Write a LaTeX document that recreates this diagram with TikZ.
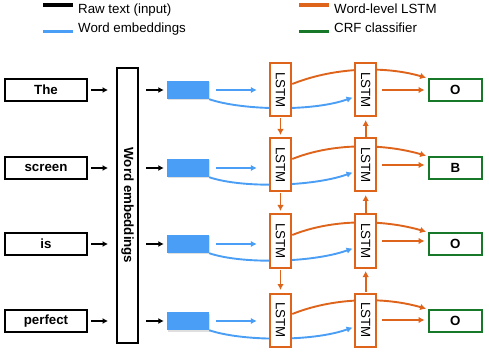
\documentclass[tikz,border=0pt]{standalone}
\usepackage{fontspec}
\setmainfont{Liberation Sans}
\usetikzlibrary{arrows.meta,shadows,calc}
\definecolor{cblue}{RGB}{74,158,245}
\definecolor{corange}{RGB}{222,100,28}
\definecolor{cgreen}{RGB}{22,120,40}
\pgfdeclarelayer{bg}
\pgfsetlayers{bg,main}
\begin{document}
\begin{tikzpicture}[x=1pt,y=1pt,
  every node/.style={font=\fontsize{13.3}{16}\selectfont, inner sep=0pt},
  wordbox/.style={draw, line width=2pt, minimum width=82pt, minimum height=22.5pt, font=\fontsize{13.3}{16}\selectfont\bfseries},
  embbox/.style={fill=cblue, minimum width=42pt, minimum height=18pt,
     drop shadow={shadow xshift=1pt, shadow yshift=-1.5pt, opacity=0.25}},
  lstmbox/.style={draw=corange, fill=white, line width=2pt, minimum width=21.5pt, minimum height=53pt},
  outbox/.style={draw=cgreen, fill=white, line width=2pt, minimum width=53.5pt, minimum height=21.7pt, font=\fontsize{13.3}{16}\selectfont\bfseries},
  blk/.style={line width=2pt, -{Latex[length=5.5pt,width=6pt]}},
  bl/.style={draw=cblue, line width=1.9pt, -{Latex[length=6pt,width=6.5pt]}},
  org/.style={draw=corange, line width=1.9pt, -{Latex[length=6pt,width=6.5pt]}},
  swatch/.style={line width=3.4pt}
]
\useasboundingbox (0,0) rectangle (489,-352);

% legend
\draw[swatch, black] (43,-5) -- (73,-5);
\node[anchor=base west] (lg1) at (78,-14) {Raw text (input)};
\draw[swatch, cblue] (43,-31.7) -- (73,-31.7);
\node[anchor=base west] (lg2) at (78,-32.8) {Word embeddings};
\draw[swatch, corange] (299,-5) -- (329,-5);
\node[anchor=base west] (lg3) at (334,-14) {Word-level LSTM};
\draw[swatch, cgreen] (299,-31.7) -- (329,-31.7);
\node[anchor=base west] (lg4) at (334,-32.8) {CRF classifier};

% word embeddings box
\node[draw, line width=2pt, minimum width=21pt, minimum height=275pt] (emb) at (127.5,-205.5)
  {\rotatebox{-90}{\bfseries Word embeddings}};

% rows
\foreach \i/\w/\o/\yw/\yl in {1/The/O/90/90, 2/screen/B/168/165, 3/is/O/244/241, 4/perfect/O/321/320} {
  \node[wordbox] (w\i) at (46,-\yw) {\w};
  \node[embbox] (e\i) at (188,-\yw) {};
  \node[lstmbox] (a\i) at (280.5,-\yl) {\rotatebox{-90}{LSTM}};
  \node[lstmbox] (b\i) at (365.7,-\yl) {\rotatebox{-90}{LSTM}};
  \node[outbox] (o\i) at (455.3,-\yw) {\o};
  \draw[blk, shorten <=3pt, shorten >=8pt] (w\i.east) -- (w\i.east -| emb.west);
  \draw[blk, shorten <=7pt, shorten >=3pt] (w\i.east -| emb.east) -- (e\i.west);
  \begin{pgfonlayer}{bg}
    \draw[bl, shorten <=7pt, shorten >=12pt] (e\i.east) -- (e\i.east -| a\i.west);
    \draw[bl, shorten >=1.5pt] (e\i.south east) .. controls +(32,-11) and +(-42,-15) .. ([yshift=-7pt]b\i.west);
    \draw[org, shorten >=1.5pt] ([yshift=6pt]a\i.east) .. controls +(40,16) and +(-45,13) .. (o\i.north west);
    \draw[org, shorten <=5pt, shorten >=3pt] (b\i.east) -- (b\i.east -| o\i.west);
  \end{pgfonlayer}
}
\foreach \i/\j in {1/2, 2/3, 3/4} {
  \draw[org, shorten <=1pt, shorten >=2.5pt] (a\i.south) -- (a\j.north);
  \draw[org, shorten <=0.5pt, shorten >=2.5pt] (b\j.north) -- (b\i.south);
}
\end{tikzpicture}
\end{document}
